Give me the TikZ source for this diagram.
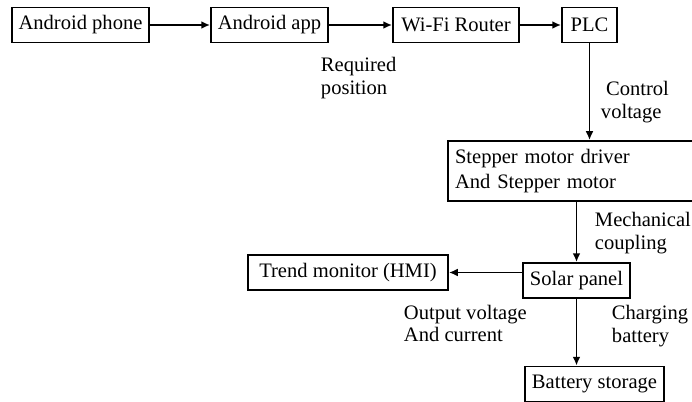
\documentclass[tikz,border=0pt]{standalone}
\usepackage{fontspec}
\setmainfont{Liberation Serif}
\usetikzlibrary{arrows.meta}

\begin{document}
\begin{tikzpicture}[
  line width = 1.1pt,
  >={Latex[length = 5pt, width = 4.5pt]},
  font = \fontsize{11.7}{13}\selectfont,
  block/.style = {rectangle, draw, inner sep = 0pt,
    minimum height = 0.7cm},
  caption/.style = {align = left, inner sep = 0pt, anchor = west}
  ]
  \useasboundingbox (0,0) rectangle (13.84,8.02);

  % Blocks
  \node at ( 1.61, 7.52) [block, minimum width = 2.74cm, name = phone] {Android phone};
  \node at ( 5.39, 7.52) [block, minimum width = 2.34cm, name = app] {Android app};
  \node at ( 9.12, 7.52) [block, minimum width = 2.52cm, name = router] {Wi-Fi Router};
  \node at (11.79, 7.52) [block, minimum width = 1.10cm, name = plc] {PLC};

  \node at (11.42, 4.60) [block, minimum height = 1.2cm, text width = 4.64cm,
    inner xsep = 0.14cm, align = left, font = \fontsize{11.7}{14}\selectfont,
    name = stepper] {Stepper motor driver\\And Stepper motor};

  \node at ( 6.96, 2.57) [block, minimum width = 4.00cm, name = trend] {Trend monitor (HMI)};
  \node at (11.53, 2.41) [block, minimum width = 2.14cm, name = solar] {Solar panel};
  \node at (11.89, 0.34) [block, minimum width = 2.78cm, name = battery] {Battery storage};

  % Signals
  \node at ( 6.40, 6.46) [caption, name = pos_lbl] {Required\\position};
  \node at (12.00, 5.97) [caption, name = ctrl_lbl] {\ Control\\voltage};
  \node at (11.88, 3.35) [caption, name = mech_lbl] {Mechanical\\coupling};
  \node at ( 8.06, 1.55) [caption, name = out_lbl] {Output voltage\\And current};
  \node at (12.22, 1.49) [caption, name = chg_lbl] {Charging\\battery};

  % Flow
  \draw [->] (phone) to (app);
  \draw [->] (app) to (router);
  \draw [->] (router) to (plc);
  \draw [->] (plc) to (plc |- stepper.north);
  \draw [->] (stepper.south -| solar) to (solar);
  \draw [->] (solar.west |- trend) to (trend);
  \draw [->] (solar) to (solar |- battery.north);

\end{tikzpicture}
\end{document}
